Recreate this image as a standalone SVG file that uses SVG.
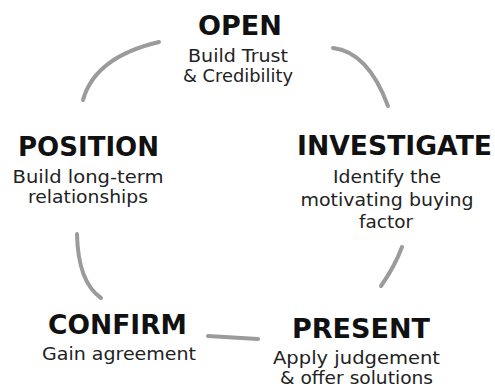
<svg xmlns="http://www.w3.org/2000/svg" width="495" height="388" viewBox="0 0 495 388">
<style>
.t{font-family:"DejaVu Sans","Open Sans",sans-serif;font-weight:bold;font-size:26px;fill:#111;text-anchor:middle}
.s{font-family:"DejaVu Sans","Open Sans",sans-serif;font-size:17.5px;fill:#222;text-anchor:middle}
.c{fill:none;stroke:#9b9b9b;stroke-width:4;stroke-linecap:round}
</style>
<rect width="495" height="388" fill="#fff"/>
<g id="connectors">
<path class="c" d="M83,100 Q95,57 159,42"/>
<path class="c" d="M333,48 Q368,52 388,106"/>
<path class="c" d="M402,247 Q395,266 381,286"/>
<path class="c" d="M258,339 L208,336"/>
<path class="c" d="M101,298 Q78,282 77,234"/>
</g>
<g id="open">
<text class="t" x="240" y="35" textLength="84" lengthAdjust="spacingAndGlyphs">OPEN</text>
<text class="s" x="238" y="62" textLength="100" lengthAdjust="spacingAndGlyphs">Build Trust</text>
<text class="s" x="238" y="82" textLength="110" lengthAdjust="spacingAndGlyphs">&amp; Credibility</text>
</g>
<g id="investigate">
<text class="t" x="394.5" y="155" textLength="195" lengthAdjust="spacingAndGlyphs">INVESTIGATE</text>
<text class="s" x="387" y="183" textLength="108" lengthAdjust="spacingAndGlyphs">Identify the</text>
<text class="s" x="387" y="205.5" textLength="173" lengthAdjust="spacingAndGlyphs">motivating buying</text>
<text class="s" x="386" y="228" textLength="54" lengthAdjust="spacingAndGlyphs">factor</text>
</g>
<g id="present">
<text class="t" x="361" y="338" textLength="138" lengthAdjust="spacingAndGlyphs">PRESENT</text>
<text class="s" x="356.5" y="364" textLength="167" lengthAdjust="spacingAndGlyphs">Apply judgement</text>
<text class="s" x="356.5" y="384" textLength="153" lengthAdjust="spacingAndGlyphs">&amp; offer solutions</text>
</g>
<g id="confirm">
<text class="t" x="117.5" y="334" textLength="139" lengthAdjust="spacingAndGlyphs">CONFIRM</text>
<text class="s" x="119" y="360" textLength="154" lengthAdjust="spacingAndGlyphs">Gain agreement</text>
</g>
<g id="position">
<text class="t" x="88.5" y="156" textLength="141" lengthAdjust="spacingAndGlyphs">POSITION</text>
<text class="s" x="88" y="183" textLength="151" lengthAdjust="spacingAndGlyphs">Build long-term</text>
<text class="s" x="88" y="203" textLength="120" lengthAdjust="spacingAndGlyphs">relationships</text>
</g>
</svg>
